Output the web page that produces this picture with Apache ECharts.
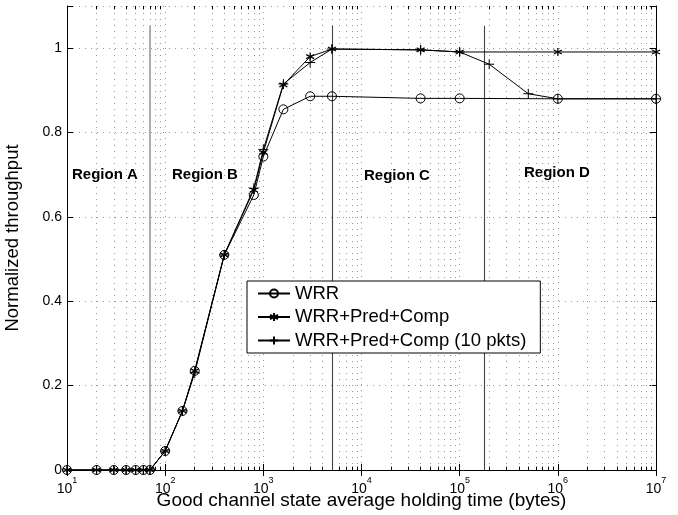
<!DOCTYPE html>
<html>
<head>
<meta charset="utf-8">
<script src="https://cdn.jsdelivr.net/npm/echarts@6/dist/echarts.min.js"></script>
<style>
html,body{margin:0;padding:0;background:#fff;}
#chart{width:678px;height:515px;}
</style>
</head>
<body>
<div id="chart"></div>
<script>
// ---- data ----
const xWRR = [10, 20, 30, 40, 50, 60, 70, 100, 150, 200, 400, 800, 1000, 1600, 3000, 5000, 40000, 100000, 1000000, 10000000];
const yWRR = [0, 0, 0, 0, 0, 0, 0, 0.045, 0.14, 0.235, 0.51, 0.652, 0.743, 0.855, 0.886, 0.886, 0.881, 0.881, 0.880, 0.880];

const xPC = [10, 20, 30, 40, 50, 60, 70, 100, 150, 200, 400, 800, 1000, 1600, 3000, 5000, 40000, 100000, 1000000, 10000000];
const yPC = [0, 0, 0, 0, 0, 0, 0, 0.045, 0.14, 0.235, 0.51, 0.664, 0.753, 0.913, 0.98, 0.998, 0.996, 0.991, 0.991, 0.991];

const xPC10 = [10, 20, 30, 40, 50, 60, 70, 100, 150, 200, 400, 800, 1000, 1600, 3000, 5000, 40000, 100000, 200000, 500000, 1000000, 10000000];
const yPC10 = [0, 0, 0, 0, 0, 0, 0, 0.045, 0.14, 0.23, 0.51, 0.668, 0.76, 0.915, 0.966, 0.998, 0.996, 0.991, 0.962, 0.892, 0.880, 0.880];

const seriesNames = ['WRR', 'WRR+Pred+Comp', 'WRR+Pred+Comp (10 pkts)'];
const regionBounds = [70, 5000, 180000];
const regionLabels = ['Region A', 'Region B', 'Region C', 'Region D'];
const yTicks = [0, 0.2, 0.4, 0.6, 0.8, 1];
const xTitle = 'Good channel state average holding time (bytes)';
const yTitle = 'Normalized throughput';

// ---- helpers ----
const zip = (xs, ys) => xs.map((x, i) => [x, ys[i]]);
const FONT = '"Liberation Sans", Arial, Helvetica, sans-serif';
const GRIDCOL = '#999';

// minor log gridline positions (2..9 x 10^k)
const minorVals = [];
for (let k = 1; k < 7; k++) for (let m = 2; m <= 9; m++) minorVals.push(m * Math.pow(10, k));

const gridLines = minorVals.map(v => ({xAxis: v}));
const minorTickSegs = [];
minorVals.forEach(v => {
  minorTickSegs.push([{coord: [v, 0]}, {coord: [v, 0.008]}]);
  minorTickSegs.push([{coord: [v, 1.1]}, {coord: [v, 1.092]}]);
});

const regionLines = regionBounds.map((b, i) => [
  {coord: [b, 0], lineStyle: {color: i === 0 ? '#9a9a9a' : '#444', width: i === 0 ? 1.6 : 1.1, type: 'solid'}},
  {coord: [b, 1.053]}
]);

const STAR = 'path://M5,0L5,10M0.67,2.5L9.33,7.5M0.67,7.5L9.33,2.5';
const PLUS = 'path://M5,0L5,10M0,5L10,5';

const chart = echarts.init(document.getElementById('chart'), null, {renderer: 'canvas'});

const option = {
  animation: false,
  backgroundColor: '#fff',
  textStyle: {fontFamily: FONT},
  grid: {left: 67, right: 22, top: 6, bottom: 45, containLabel: false, outerBoundsMode: 'none'},
  legend: {
    data: seriesNames,
    orient: 'vertical',
    left: 247, top: 281,
    itemWidth: 32, itemHeight: 10, itemGap: 4.5,
    padding: [3, 14, 3, 10],
    borderColor: '#000', borderWidth: 1, borderRadius: 0,
    backgroundColor: '#fff',
    textStyle: {fontSize: 18.5, color: '#000', fontFamily: FONT},
    z: 20
  },
  xAxis: [{
    type: 'log', logBase: 10, min: 10, max: 10000000,
    name: xTitle, nameLocation: 'middle', nameGap: 21, nameMoveOverlap: false,
    nameTextStyle: {fontSize: 19, color: '#000', fontFamily: FONT},
    axisLine: {lineStyle: {color: '#000', width: 1}},
    axisTick: {inside: true, length: 6, lineStyle: {color: '#000'}},
    axisLabel: {
      margin: 6, color: '#000',
      formatter: v => '{b|10}{s|' + Math.round(Math.log10(v)) + '}',
      rich: {
        b: {fontSize: 14, fontFamily: FONT, color: '#000', lineHeight: 20, verticalAlign: 'bottom'},
        s: {fontSize: 9, fontFamily: FONT, color: '#000', lineHeight: 20, verticalAlign: 'top'}
      }
    },
    splitLine: {show: true, lineStyle: {color: GRIDCOL, width: 1, type: [1, 5]}}
  }, {
    type: 'log', logBase: 10, min: 10, max: 10000000, position: 'top',
    axisLine: {lineStyle: {color: '#000', width: 1}},
    axisTick: {inside: true, length: 6, lineStyle: {color: '#000'}},
    axisLabel: {show: false}, splitLine: {show: false}
  }],
  yAxis: [{
    type: 'value', min: 0, max: 1.1, interval: 0.2,
    name: yTitle, nameLocation: 'middle', nameGap: 45, nameMoveOverlap: false,
    nameTextStyle: {fontSize: 18.5, color: '#000', fontFamily: FONT},
    axisLine: {show: true, lineStyle: {color: '#000', width: 1}},
    axisTick: {show: true, inside: true, length: 6, lineStyle: {color: '#000'}},
    axisLabel: {
      fontSize: 14, color: '#000', margin: 5, fontFamily: FONT,
      formatter: v => (yTicks.some(t => Math.abs(t - v) < 1e-6) ? String(+v.toFixed(1)) : '')
    },
    splitLine: {show: true, lineStyle: {color: GRIDCOL, width: 1, type: [1, 5]}}
  }, {
    type: 'value', min: 0, max: 1.1, interval: 0.2, position: 'right',
    axisLine: {show: true, lineStyle: {color: '#000', width: 1}},
    axisTick: {show: true, inside: true, length: 6, lineStyle: {color: '#000'}},
    axisLabel: {show: false}, splitLine: {show: false}
  }],
  graphic: [
    {type: 'text', left: 72, top: 167, style: {text: regionLabels[0], font: 'bold 15px ' + FONT, fill: '#000'}, z: 10},
    {type: 'text', left: 172, top: 167, style: {text: regionLabels[1], font: 'bold 15px ' + FONT, fill: '#000'}, z: 10},
    {type: 'text', left: 364, top: 168, style: {text: regionLabels[2], font: 'bold 15px ' + FONT, fill: '#000'}, z: 10},
    {type: 'text', left: 524, top: 165, style: {text: regionLabels[3], font: 'bold 15px ' + FONT, fill: '#000'}, z: 10}
  ],
  series: [
    {
      type: 'line', name: '_grid', data: [], z: 1, silent: true,
      markLine: {
        silent: true, symbol: ['none', 'none'], animation: false,
        label: {show: false},
        lineStyle: {color: GRIDCOL, width: 1, type: [1, 5]},
        data: gridLines
      }
    },
    {
      type: 'line', name: '_ticks', data: [], z: 2, silent: true,
      markLine: {
        silent: true, symbol: ['none', 'none'], animation: false,
        label: {show: false},
        lineStyle: {color: '#000', width: 1, type: 'solid'},
        data: minorTickSegs.concat(regionLines)
      }
    },
    {
      type: 'line', name: seriesNames[0], data: zip(xWRR, yWRR), z: 5,
      symbol: 'circle', symbolSize: 9, showAllSymbol: true,
      lineStyle: {color: '#000', width: 1},
      itemStyle: {color: 'rgba(0,0,0,0)', borderColor: '#000', borderWidth: 1}
    },
    {
      type: 'line', name: seriesNames[1], data: zip(xPC, yPC), z: 6,
      symbol: STAR, symbolSize: 8, showAllSymbol: true,
      lineStyle: {color: '#000', width: 1},
      itemStyle: {color: '#000', borderColor: '#000', borderWidth: 1.2}
    },
    {
      type: 'line', name: seriesNames[2], data: zip(xPC10, yPC10), z: 7,
      symbol: PLUS, symbolSize: 10, showAllSymbol: true,
      lineStyle: {color: '#000', width: 1},
      itemStyle: {color: '#000', borderColor: '#000', borderWidth: 1}
    }
  ]
};
chart.setOption(option);
</script>
</body>
</html>
